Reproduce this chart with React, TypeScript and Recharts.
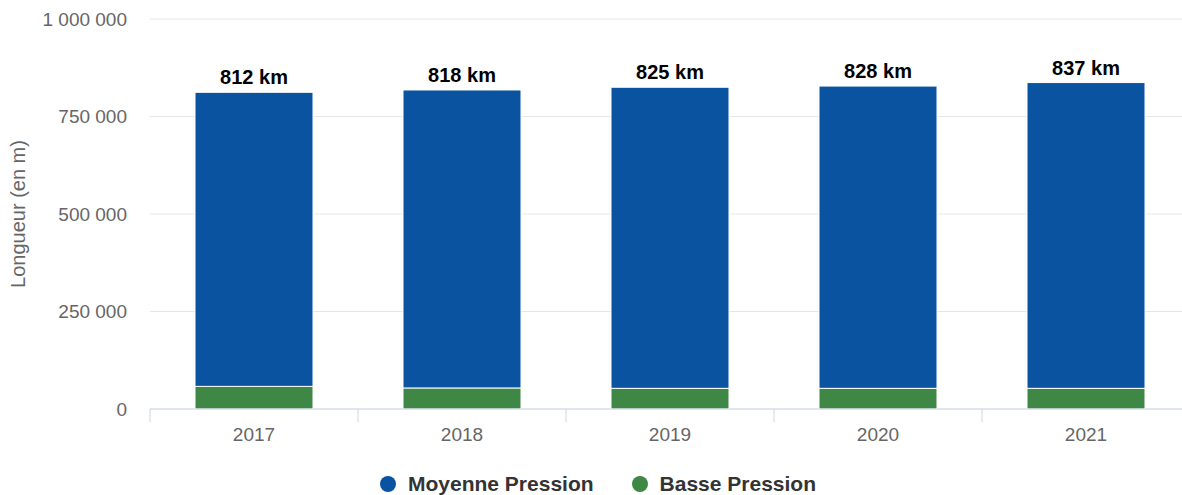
import React from "react";
import { BarChart, Bar, XAxis, YAxis, CartesianGrid, Legend, LabelList } from "recharts";

const YEARS = ["2017", "2018", "2019", "2020", "2021"];
const MOYENNE_PRESSION = [754000, 764000, 772000, 775000, 784000];
const BASSE_PRESSION = [58000, 54000, 53000, 53000, 53000];
const Y_TICKS = [0, 250000, 500000, 750000, 1000000];

const BLUE = "#0a53a1";
const GREEN = "#3f8744";
const FONT = '"Liberation Sans", Arial, Helvetica, sans-serif';

const chartData = YEARS.map((year, i) => {
  const total = MOYENNE_PRESSION[i] + BASSE_PRESSION[i];
  return {
    year,
    moyenne: MOYENNE_PRESSION[i],
    basse: BASSE_PRESSION[i],
    label: `${Math.round(total / 1000)} km`,
  };
});

const formatThousands = (v: number) =>
  String(v).replace(/\B(?=(\d{3})+(?!\d))/g, " ");

// category labels plus the small separator ticks between categories
function YearTick({ x, y, payload, index }: any) {
  const half = payload.offset || 0;
  const last = index === YEARS.length - 1;
  return (
    <g>
      <line x1={x - half} x2={x - half} y1={y} y2={y + 13} stroke="#ccd6eb" />
      {last && <line x1={x + half} x2={x + half} y1={y} y2={y + 13} stroke="#ccd6eb" />}
      <text x={x} y={y + 32} textAnchor="middle" fill="#666" fontSize={19} fontFamily={FONT}>
        {payload.value}
      </text>
    </g>
  );
}

function LegendContent() {
  const items = [
    { name: "Moyenne Pression", color: BLUE },
    { name: "Basse Pression", color: GREEN },
  ];
  return (
    <div
      style={{
        width: 1200,
        height: 36,
        paddingTop: 14,
        paddingRight: 6,
        boxSizing: "border-box",
        display: "flex",
        justifyContent: "center",
        gap: 36,
      }}
    >
      {items.map((it) => (
        <div key={it.name} style={{ display: "flex", alignItems: "center", height: 22 }}>
          <svg width={20} height={20} style={{ marginRight: 10 }}>
            <circle cx={10} cy={10} r={8} fill={it.color} />
          </svg>
          <span style={{ fontFamily: FONT, fontSize: 21, fontWeight: 700, color: "#333" }}>
            {it.name}
          </span>
        </div>
      ))}
    </div>
  );
}

export default function App() {
  return (
    <div
      style={{
        position: "fixed",
        top: 0,
        left: 0,
        width: 1182,
        height: 495,
        overflow: "hidden",
        background: "#fff",
      }}
    >
      <BarChart
        width={1200}
        height={495}
        data={chartData}
        margin={{ top: 19, right: 10, left: 0, bottom: 0 }}
        barSize={118}
      >
        <CartesianGrid horizontal vertical={false} stroke="#e6e6e6" />
        <XAxis
          dataKey="year"
          height={50}
          axisLine={{ stroke: "#ccd6eb" }}
          tickLine={false}
          tickSize={0}
          tickMargin={0}
          tick={<YearTick />}
          interval={0}
        />
        <YAxis
          width={150}
          domain={[0, 1000000]}
          ticks={Y_TICKS}
          axisLine={false}
          tickLine={false}
          tickSize={6}
          tickMargin={17}
          tickFormatter={formatThousands}
          tick={{ fill: "#666", fontSize: 19, fontFamily: FONT }}
          label={{
            value: "Longueur (en m)",
            angle: -90,
            position: "center",
            dx: -57,
            fill: "#666",
            fontSize: 20,
            fontFamily: FONT,
          }}
        />
        <Legend verticalAlign="bottom" height={36} content={<LegendContent />} />
        <Bar dataKey="basse" stackId="a" fill={GREEN} stroke="#fff" strokeWidth={1} isAnimationActive={false} />
        <Bar dataKey="moyenne" stackId="a" fill={BLUE} stroke="#fff" strokeWidth={1} isAnimationActive={false}>
          <LabelList
            dataKey="label"
            position="top"
            offset={8}
            fill="#000"
            fontSize={20}
            fontWeight={700}
            fontFamily={FONT}
          />
        </Bar>
      </BarChart>
    </div>
  );
}
